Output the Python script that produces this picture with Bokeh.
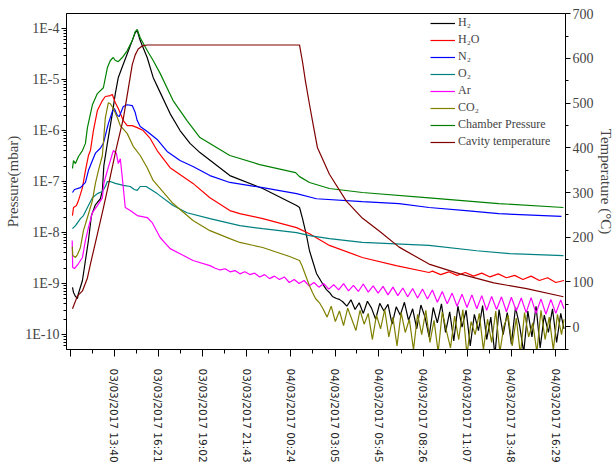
from bokeh.plotting import figure
from bokeh.models import Range1d, LinearAxis, LinearScale, FixedTicker, CustomJSTickFormatter
from bokeh.embed import file_html
from bokeh.resources import INLINE

# ---- x ticks (hours since 03/03/2017 00:00) ----
tick_hours = [10.983, 13.667, 16.35, 19.033, 21.717, 24.4, 27.083, 29.75, 32.433, 35.117, 37.8, 40.483]
tick_labels = ["", "03/03/2017  13:40", "03/03/2017  16:21", "03/03/2017  19:02", "03/03/2017  21:43",
               "04/03/2017  00:24", "04/03/2017  03:05", "04/03/2017  05:45", "04/03/2017  08:26",
               "04/03/2017  11:07", "04/03/2017  13:48", "04/03/2017  16:29"]
minor_hours = [12.325, 15.008, 17.692, 20.375, 23.058, 25.742, 28.417, 31.092, 33.775, 36.458, 39.142]

p_decades = [1e-10, 1e-9, 1e-8, 1e-7, 1e-6, 1e-5, 1e-4]
temp_ticks = [0, 100, 200, 300, 400, 500, 600, 700]
temp_minor = [-50, 50, 150, 250, 350, 450, 550, 650]

# ---- series: (hours, pressure mbar) ----
h2 = [(11.124, 8.4e-10), (11.185, 6.7e-10), (11.306, 5.6e-10), (11.427, 5.1e-10), (11.487, 6.4e-10),
      (11.729, 1.15e-9), (11.911, 2.83e-9), (12.093, 7.0e-9), (12.274, 2.15e-8), (12.516, 3.5e-8),
      (12.819, 4.6e-8), (12.940, 6.7e-8), (13.031, 2.06e-7), (13.243, 5.6e-7), (13.545, 2.15e-6),
      (13.727, 5.3e-6), (13.909, 1.1e-5), (14.211, 2.0e-5), (14.453, 3.2e-5), (14.756, 5.8e-5),
      (14.938, 8.3e-5), (15.059, 9.1e-5), (15.240, 5.8e-5), (15.664, 2.7e-5), (16.027, 1.1e-5),
      (16.451, 5.6e-6), (17.056, 2.15e-6), (17.661, 1.0e-6), (18.267, 5.6e-7), (18.872, 3.7e-7),
      (20.688, 1.31e-7), (22.686, 7.3e-8), (24.744, 3.38e-8), (24.925, 3.1e-8), (25.107, 1.88e-8),
      (25.349, 8.7e-9), (25.530, 4.4e-9), (25.712, 2.83e-9), (25.954, 1.58e-9), (26.136, 1.26e-9),
      (26.317, 1.0e-9), (26.559, 7.6e-10), (26.741, 6.7e-10), (26.922, 5.6e-10), (27.165, 5.1e-10),
      (27.346, 4.9e-10),
      (27.55, 4.4e-10), (27.80, 3.6e-10), (28.05, 4.8e-10), (28.30, 3.1e-10), (28.55, 4.2e-10),
      (28.80, 2.6e-10), (29.05, 4.5e-10), (29.30, 3.3e-10), (29.55, 2.0e-10), (29.80, 4.1e-10),
      (30.05, 2.9e-10), (30.30, 3.9e-10), (30.55, 1.6e-10), (30.80, 3.5e-10), (31.05, 2.4e-10),
      (31.30, 4.3e-10), (31.55, 1.9e-10), (31.80, 3.2e-10), (32.05, 1.3e-10), (32.30, 3.8e-10),
      (32.55, 2.2e-10), (32.80, 9.0e-11), (33.05, 3.4e-10), (33.30, 1.7e-10), (33.55, 4.0e-10),
      (33.80, 1.1e-10), (34.05, 2.8e-10), (34.30, 7.5e-11), (34.55, 3.6e-10), (34.80, 1.4e-10),
      (35.05, 3.0e-10), (35.30, 6.0e-11), (35.55, 2.5e-10), (35.80, 1.2e-10), (36.05, 3.7e-10),
      (36.30, 8.0e-11), (36.55, 2.2e-10), (36.80, 4.0e-11), (37.05, 3.1e-10), (37.30, 1.0e-10),
      (37.55, 2.7e-10), (37.80, 6.5e-11), (38.05, 3.4e-10), (38.30, 1.5e-10), (38.55, 4.5e-11),
      (38.80, 2.9e-10), (39.05, 9.0e-11), (39.30, 3.6e-10), (39.55, 5.5e-11), (39.80, 2.4e-10),
      (40.05, 1.1e-10), (40.30, 3.2e-10), (40.55, 7.0e-11), (40.80, 2.6e-10), (41.00, 1.3e-10)]

h2o = [(11.124, 2.15e-8), (11.185, 3.1e-8), (11.367, 3.38e-8), (11.487, 4.24e-8), (11.729, 7.6e-8),
       (11.911, 1.64e-7), (12.093, 3.24e-7), (12.214, 4.05e-7), (12.395, 1.0e-6), (12.637, 2.47e-6),
       (12.940, 3.87e-6), (13.122, 4.65e-6), (13.424, 4.85e-6), (13.545, 5.1e-6), (13.727, 3.5e-6),
       (13.909, 2.7e-6), (14.211, 1.57e-6), (14.453, 1.25e-6), (14.756, 1.25e-6), (15.059, 1.14e-6),
       (15.422, 1.0e-6), (15.846, 7.0e-7), (16.269, 4.05e-7), (17.056, 1.87e-7), (18.448, 9.2e-8),
       (19.477, 4.8e-8), (20.688, 2.7e-8), (21.293, 2.35e-8), (22.686, 1.88e-8), (24.744, 1.25e-8),
       (25.530, 9.5e-9), (26.741, 5.6e-9), (28.738, 3.25e-9), (30.796, 2.25e-9), (32.794, 1.65e-9),
       (33.0, 1.75e-9), (33.5, 1.5e-9), (34.0, 1.7e-9), (34.5, 1.45e-9), (35.0, 1.65e-9),
       (35.5, 1.4e-9), (36.0, 1.6e-9), (36.5, 1.35e-9), (37.0, 1.55e-9), (37.5, 1.3e-9),
       (38.0, 1.45e-9), (38.5, 1.2e-9), (39.0, 1.4e-9), (39.5, 1.15e-9), (40.0, 1.3e-9),
       (40.5, 1.05e-9), (41.0, 1.15e-9)]

n2 = [(11.124, 6.1e-8), (11.245, 7.0e-8), (11.608, 7.6e-8), (11.911, 9.6e-8), (12.093, 1.64e-7),
      (12.335, 2.58e-7), (12.516, 3.6e-7), (12.819, 4.5e-7), (13.001, 5.6e-7), (13.303, 1.37e-6),
      (13.545, 2.35e-6), (13.667, 2.7e-6), (13.848, 1.97e-6), (13.969, 1.88e-6), (14.211, 2.95e-6),
      (14.453, 3.2e-6), (14.756, 3.09e-6), (14.938, 2.25e-6), (15.059, 1.57e-6), (15.240, 1.2e-6),
      (15.664, 9.6e-7), (16.269, 6.7e-7), (16.875, 3.9e-7), (17.661, 2.58e-7), (18.448, 1.97e-7),
      (19.477, 1.31e-7), (20.688, 9.6e-8), (22.686, 7.6e-8), (24.744, 5.8e-8), (25.954, 4.6e-8),
      (28.738, 4.05e-8), (30.978, 3.7e-8), (32.794, 3.1e-8), (35.034, 2.7e-8), (37.031, 2.35e-8),
      (40.844, 2.07e-8)]

o2 = [(11.124, 1.19e-8), (11.306, 1.37e-8), (11.608, 1.88e-8), (11.790, 2.15e-8), (12.032, 3.1e-8),
      (12.335, 4.8e-8), (12.637, 5.8e-8), (12.940, 6.4e-8), (13.122, 8.0e-8), (13.243, 1.0e-7),
      (13.424, 1.0e-7), (13.727, 9.2e-8), (14.211, 8.4e-8), (14.635, 8.0e-8), (14.877, 7.0e-8),
      (15.059, 6.7e-8), (15.240, 8.0e-8), (15.603, 8.0e-8), (16.269, 5.8e-8), (17.238, 3.38e-8),
      (18.085, 2.45e-8), (19.477, 1.88e-8), (21.293, 1.37e-8), (22.686, 1.19e-8), (24.744, 1.0e-8),
      (25.530, 8.7e-9), (26.741, 7.6e-9), (28.738, 6.4e-9), (32.794, 5.6e-9), (35.699, 4.4e-9),
      (37.697, 3.85e-9), (40.965, 3.54e-9)]

ar = [(11.106, 7.0e-9), (11.136, 2.06e-9), (11.245, 1.97e-9), (11.487, 2.47e-9), (11.729, 3.25e-9),
      (11.911, 7.0e-9), (12.093, 1.25e-8), (12.335, 2.47e-8), (12.637, 3.38e-8), (12.940, 4.8e-8),
      (13.031, 9.2e-8), (13.243, 1.64e-7), (13.424, 2.58e-7), (13.606, 4.05e-7), (13.788, 3.6e-7),
      (13.909, 2.25e-7), (14.030, 2.8e-7), (14.151, 1.2e-7), (14.332, 3.1e-8), (14.635, 2.7e-8),
      (15.059, 2.15e-8), (15.664, 1.97e-8), (15.967, 1.57e-8), (16.451, 8.0e-9), (17.056, 4.85e-9),
      (17.661, 3.85e-9), (18.448, 2.83e-9), (19.477, 2.25e-9),
      (19.8, 2.0e-9), (20.1, 1.85e-9), (20.4, 1.95e-9), (20.7, 1.7e-9), (21.0, 1.8e-9),
      (21.3, 1.55e-9), (21.6, 1.7e-9), (21.9, 1.5e-9), (22.2, 1.6e-9), (22.5, 1.35e-9),
      (22.8, 1.5e-9), (23.1, 1.25e-9), (23.4, 1.4e-9), (23.7, 1.2e-9), (24.0, 1.35e-9),
      (24.3, 1.05e-9), (24.6, 1.2e-9), (24.9, 1.0e-9), (25.2, 1.15e-9), (25.5, 9.0e-10),
      (25.8, 1.05e-9), (26.1, 8.5e-10), (26.4, 1.0e-9), (26.7, 7.8e-10), (27.0, 9.5e-10),
      (27.3, 7.5e-10), (27.6, 1.0e-9), (27.9, 7.2e-10), (28.2, 9.2e-10), (28.5, 7.0e-10),
      (28.8, 9.8e-10), (29.1, 6.8e-10), (29.4, 9.0e-10), (29.7, 6.5e-10), (30.0, 8.8e-10),
      (30.3, 6.0e-10), (30.6, 8.5e-10), (30.9, 5.8e-10), (31.2, 8.2e-10), (31.5, 5.5e-10),
      (31.8, 8.0e-10), (32.1, 5.2e-10), (32.4, 7.8e-10), (32.7, 5.0e-10), (33.0, 7.5e-10),
      (33.3, 4.3e-10), (33.6, 7.0e-10), (33.9, 4.0e-10), (34.2, 6.5e-10), (34.5, 3.6e-10),
      (34.8, 6.2e-10), (35.1, 3.4e-10), (35.4, 6.0e-10), (35.7, 3.2e-10), (36.0, 5.8e-10),
      (36.3, 3.0e-10), (36.6, 5.6e-10), (36.9, 3.1e-10), (37.2, 5.5e-10), (37.5, 2.8e-10),
      (37.8, 5.4e-10), (38.1, 2.9e-10), (38.4, 5.2e-10), (38.7, 2.7e-10), (39.0, 5.3e-10),
      (39.3, 2.6e-10), (39.6, 5.0e-10), (39.9, 2.5e-10), (40.2, 4.9e-10), (40.5, 2.6e-10),
      (40.8, 4.8e-10), (41.0, 3.2e-10)]

co2 = [(11.112, 5.3e-9), (11.142, 3.54e-9), (11.306, 3.25e-9), (11.427, 3.7e-9), (11.608, 5.1e-9),
       (11.790, 1.09e-8), (12.032, 1.97e-8), (12.335, 4.24e-8), (12.516, 9.2e-8), (12.698, 1.64e-7),
       (12.940, 3.24e-7), (13.122, 1.8e-6), (13.303, 3.5e-6), (13.424, 3.35e-6), (13.606, 2.7e-6),
       (13.848, 1.8e-6), (14.030, 1.25e-6), (14.453, 8.7e-7), (14.816, 4.9e-7), (15.240, 3.24e-7),
       (15.664, 1.87e-7), (16.027, 1.05e-7), (17.238, 3.7e-8), (18.448, 1.72e-8), (19.477, 1.09e-8),
       (20.688, 7.6e-9), (21.293, 6.4e-9), (22.686, 5.1e-9), (24.320, 3.4e-9), (24.925, 2.83e-9),
       (25.046, 2.35e-9), (25.228, 1.65e-9), (25.409, 1.15e-9), (25.530, 9.1e-10), (25.712, 6.7e-10),
       (25.894, 5.1e-10), (26.136, 4.2e-10),
       (26.35, 3.2e-10), (26.60, 2.2e-10), (26.85, 3.6e-10), (27.10, 1.8e-10), (27.35, 2.9e-10),
       (27.60, 1.5e-10), (27.85, 3.3e-10), (28.10, 2.0e-10), (28.35, 1.2e-10), (28.60, 3.0e-10),
       (28.85, 1.6e-10), (29.10, 2.6e-10), (29.35, 8.0e-11), (29.60, 2.4e-10), (29.85, 1.3e-10),
       (30.10, 3.1e-10), (30.35, 9.0e-11), (30.60, 2.2e-10), (30.85, 6.0e-11), (31.10, 2.7e-10),
       (31.35, 1.1e-10), (31.60, 2.0e-10), (31.85, 5.0e-11), (32.10, 2.5e-10), (32.35, 1.0e-10),
       (32.60, 3.0e-10), (32.85, 7.0e-11), (33.10, 1.9e-10), (33.35, 4.5e-11), (33.60, 2.8e-10),
       (33.85, 1.2e-10), (34.10, 5.5e-11), (34.35, 2.3e-10), (34.60, 8.0e-11), (34.85, 3.1e-10),
       (35.10, 4.0e-11), (35.35, 1.8e-10), (35.60, 1.0e-10), (35.85, 2.6e-10), (36.10, 5.0e-11),
       (36.35, 2.0e-10), (36.60, 7.0e-11), (36.85, 2.9e-10), (37.10, 4.5e-11), (37.35, 1.5e-10),
       (37.60, 2.4e-10), (37.85, 6.0e-11), (38.10, 2.1e-10), (38.35, 4.0e-11), (38.60, 2.7e-10),
       (38.85, 9.0e-11), (39.10, 1.7e-10), (39.35, 4.5e-11), (39.60, 3.0e-10), (39.85, 8.0e-11),
       (40.10, 2.2e-10), (40.35, 5.0e-11), (40.60, 2.5e-10), (40.85, 1.0e-10), (41.00, 2.0e-10)]

chamber = [(11.124, 1.8e-7), (11.185, 2.58e-7), (11.306, 2.25e-7), (11.487, 3.1e-7), (11.729, 4.05e-7),
           (11.911, 5.6e-7), (12.032, 1.14e-6), (12.335, 3.2e-6), (12.637, 5.3e-6), (13.001, 6.9e-6),
           (13.243, 1.7e-5), (13.424, 2.36e-5), (13.606, 2.7e-5), (13.727, 2.36e-5), (13.909, 2.25e-5),
           (14.151, 2.7e-5), (14.453, 3.7e-5), (14.756, 5.8e-5), (14.938, 8.7e-5), (15.059, 9.6e-5),
           (15.240, 6.6e-5), (15.664, 3.7e-5), (16.027, 2.36e-5), (16.451, 1.32e-5), (17.238, 3.87e-6),
           (18.085, 1.57e-6), (18.872, 7.3e-7), (20.688, 3.24e-7), (22.504, 2.15e-7), (24.683, 1.5e-7),
           (24.925, 1.25e-7), (25.530, 9.6e-8), (26.741, 7.3e-8), (28.738, 6.1e-8), (32.794, 4.8e-8),
           (37.031, 3.7e-8), (40.965, 3.1e-8)]

# ---- cavity temperature: (hours, deg C) ----
cavity = [(11.124, 40), (11.427, 69), (11.729, 80), (12.032, 109), (12.214, 140), (12.637, 207),
          (13.001, 265), (13.424, 336), (13.788, 399), (14.211, 465), (14.514, 532), (14.756, 586),
          (14.938, 608), (15.119, 621), (15.361, 628), (15.664, 630), (24.925, 630), (25.107, 592),
          (25.288, 548), (25.530, 497), (25.772, 448), (26.015, 400), (26.741, 341), (27.770, 281),
          (28.738, 243), (29.767, 214), (30.978, 178), (32.794, 140), (34.671, 118), (36.729, 98),
          (38.726, 85), (40.965, 67)]

series = [("H\u2082", h2, "#000000"), ("H\u2082O", h2o, "#ff0000"), ("N\u2082", n2, "#0000ff"),
          ("O\u2082", o2, "#008080"), ("Ar", ar, "#ff00ff"), ("CO\u2082", co2, "#808000"),
          ("Chamber Pressure", chamber, "#008000")]

SERIF = "Liberation Serif"

p = figure(width=616, height=476, y_axis_type="log",
           x_range=Range1d(10.76, 41.09), y_range=Range1d(5.1e-11, 1.97e-4),
           output_backend="svg", toolbar_location=None,
           min_border_left=66, min_border_right=49, min_border_top=13, min_border_bottom=127)
p.extra_y_ranges = {"temp": Range1d(-51, 700.5)}
p.extra_y_scales = {"temp": LinearScale()}
p.xgrid.visible = False
p.ygrid.visible = False
p.outline_line_color = "black"
p.outline_line_width = 1
p.background_fill_color = "white"

for name, data, color in series:
    xs = [d[0] for d in data]
    ys = [d[1] for d in data]
    p.line(xs, ys, line_color=color, line_width=1.2, legend_label=name)

p.line([d[0] for d in cavity], [d[1] for d in cavity], line_color="#800000", line_width=1.2,
       y_range_name="temp", legend_label="Cavity temperature")

# x axis
xa = p.xaxis[0]
xa.ticker = FixedTicker(ticks=tick_hours, minor_ticks=minor_hours)
xa.formatter = CustomJSTickFormatter(args=dict(pos=tick_hours, lab=tick_labels), code="""
let best = 0; let d = 1e9;
for (let i = 0; i < pos.length; i++) { const e = Math.abs(pos[i] - tick); if (e < d) { d = e; best = i; } }
return lab[best];
""")
xa.major_label_orientation = "vertical"
xa.major_label_text_font = "DejaVu Sans"
xa.major_label_text_font_size = "10.5px"
xa.major_label_text_color = "#222222"
xa.major_tick_out = 7
xa.major_tick_in = 0
xa.minor_tick_out = 4
xa.minor_tick_in = 0
xa.major_label_standoff = 12
xa.axis_line_color = "black"

# left axis
ya = p.yaxis[0]
minor_p = [k * d for d in [1e-11] + p_decades for k in range(2, 10)]
ya.ticker = FixedTicker(ticks=p_decades, minor_ticks=minor_p)
ya.formatter = CustomJSTickFormatter(code="return '1E' + Math.round(Math.log10(tick));")
ya.axis_label = "Pressure(mbar)"
ya.axis_label_text_font = SERIF
ya.axis_label_text_font_style = "normal"
ya.axis_label_text_font_size = "15px"
ya.axis_label_standoff = 1
ya.major_label_text_font = SERIF
ya.major_label_text_font_size = "14px"
ya.major_label_standoff = 2
ya.major_tick_out = 5
ya.major_tick_in = 0
ya.minor_tick_out = 3
ya.minor_tick_in = 0

# right axis
ra = LinearAxis(y_range_name="temp", axis_label="Temperature (\u00b0C)",
                ticker=FixedTicker(ticks=temp_ticks, minor_ticks=temp_minor))
ra.axis_label_text_font = SERIF
ra.axis_label_text_font_style = "normal"
ra.axis_label_text_font_size = "15px"
ra.axis_label_standoff = 1
ra.major_label_text_font = SERIF
ra.major_label_text_font_size = "14px"
ra.major_label_standoff = 2
ra.major_tick_out = 5
ra.major_tick_in = 0
ra.minor_tick_out = 3
ra.minor_tick_in = 0
p.add_layout(ra, "right")

lg = p.legend[0]
lg.location = (362, 198)
lg.border_line_alpha = 0
lg.background_fill_alpha = 0
lg.label_text_font = SERIF
lg.label_text_font_size = "12px"
lg.glyph_width = 25
lg.glyph_height = 14
lg.label_height = 14
lg.label_standoff = 3
lg.spacing = 2
lg.padding = 2
lg.margin = 0

open("out.html", "w").write(file_html(p, INLINE))
